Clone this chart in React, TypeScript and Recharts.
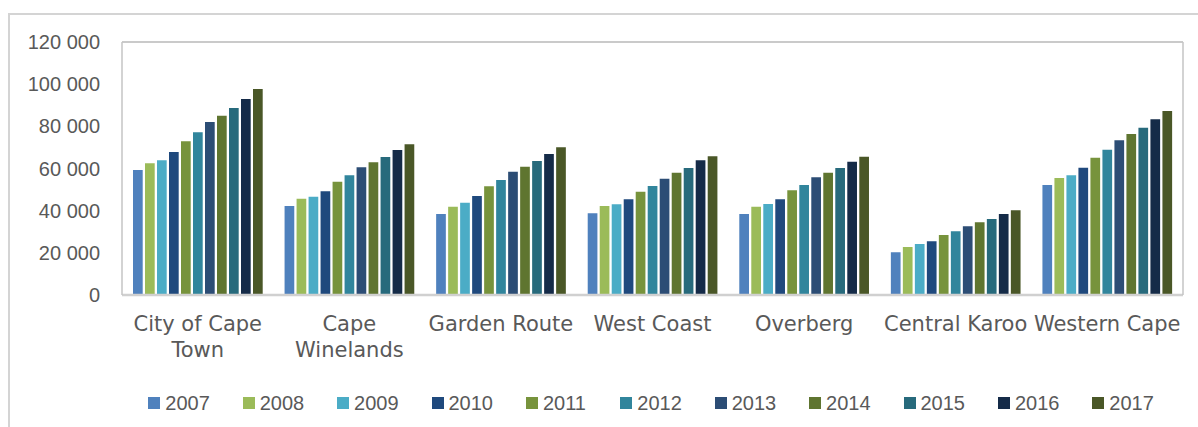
import React from "react";
import {
  BarChart,
  Bar,
  XAxis,
  YAxis,
  CartesianGrid,
  Legend,
  ReferenceLine,
} from "recharts";

const categories = [
  "City of Cape Town",
  "Cape Winelands",
  "Garden Route",
  "West Coast",
  "Overberg",
  "Central Karoo",
  "Western Cape",
];

const tickLines = [
  ["City of Cape", "Town"],
  ["Cape", "Winelands"],
  ["Garden Route"],
  ["West Coast"],
  ["Overberg"],
  ["Central Karoo"],
  ["Western Cape"],
];

const years = ["2007", "2008", "2009", "2010", "2011", "2012", "2013", "2014", "2015", "2016", "2017"];

const v2007 = [59300, 42200, 38400, 38750, 38400, 20240, 52170];
const v2008 = [62470, 45700, 41900, 42200, 41900, 22770, 55490];
const v2009 = [63900, 46600, 43800, 43000, 43160, 24190, 56760];
const v2010 = [67800, 49170, 46960, 45400, 45400, 25460, 60390];
const v2011 = [72900, 53750, 51550, 49000, 49650, 28460, 65130];
const v2012 = [77150, 56760, 54550, 51700, 52170, 30200, 68930];
const v2013 = [82050, 60550, 58500, 55160, 55800, 32580, 73360];
const v2014 = [85050, 62930, 60850, 58000, 58000, 34480, 76360];
const v2015 = [88700, 65450, 63550, 60240, 60240, 36050, 79370];
const v2016 = [92960, 68770, 66880, 63900, 63240, 38420, 83320];
const v2017 = [97700, 71500, 70050, 65800, 65600, 40170, 87270];

const seriesValues = [v2007, v2008, v2009, v2010, v2011, v2012, v2013, v2014, v2015, v2016, v2017];

const colors = [
  "#4F81BD",
  "#9BBB59",
  "#4BACC6",
  "#1F497D",
  "#77933C",
  "#31859C",
  "#2C4D75",
  "#5F7530",
  "#276A7C",
  "#152B48",
  "#4A5727",
];

const yTicks = [0, 20000, 40000, 60000, 80000, 100000, 120000];

const data = categories.map((name, ci) => {
  const row: Record<string, string | number> = { name, idx: ci };
  years.forEach((y, yi) => {
    row["y" + y] = seriesValues[yi][ci];
  });
  return row;
});

const TEXT = "#595959";

const fmt = (v: number) => {
  const s = String(Math.round(v));
  return s.replace(/\B(?=(\d{3})+(?!\d))/g, " ");
};

const XTick = (props: any) => {
  const { x, y, index } = props;
  const lines = tickLines[index] || [String(props.payload?.value ?? "")];
  return (
    <text
      x={x}
      y={y}
      textAnchor="middle"
      fill={TEXT}
      fontFamily="'DejaVu Sans', sans-serif"
      fontSize={21}
    >
      {lines.map((l: string, i: number) => (
        <tspan key={i} x={x} y={y + 36 + i * 25.5}>
          {l}
        </tspan>
      ))}
    </text>
  );
};

const LegendContent = (props: any) => {
  const payload = props.payload || [];
  return (
    <div style={{ position: "relative", height: 40, width: 1198 }}>
      {payload.map((p: any, i: number) => (
        <div
          key={i}
          style={{
            position: "absolute",
            left: 148.3 + i * 94.4,
            top: 0,
            height: 40,
            display: "flex",
            alignItems: "center",
          }}
        >
          <span
            style={{
              display: "inline-block",
              width: 12,
              height: 12,
              background: p.color,
              marginRight: 5,
            }}
          />
          <span
            style={{
              fontFamily: "'Liberation Sans', Arial, sans-serif",
              fontSize: 20,
              color: TEXT,
              lineHeight: "20px",
            }}
          >
            {p.value}
          </span>
        </div>
      ))}
    </div>
  );
};

export default function App() {
  return (
    <div
      style={{
        position: "absolute",
        left: 0,
        top: 0,
        width: 1198,
        height: 427,
        overflow: "hidden",
        background: "#fff",
      }}
    >
      <div
        style={{
          position: "absolute",
          left: 8,
          top: 13,
          width: 1300,
          height: 500,
          borderLeft: "2px solid #d4d4d4",
          borderTop: "2px solid #d4d4d4",
        }}
      />
      <div style={{ position: "absolute", left: 0, top: 0 }}>
        <BarChart
          width={1198}
          height={427}
          data={data}
          margin={{ top: 42, right: 0, left: 0, bottom: 4 }}
          barGap={2.3}
          barSize={9.7}
        >
          <CartesianGrid vertical={false} stroke="#d9d9d9" strokeWidth={2} />
          <XAxis
            dataKey="name"
            height={88}
            tickLine={false}
            tickSize={0}
            tickMargin={0}
            axisLine={{ stroke: "#d0d0d0", strokeWidth: 2.5 }}
            tick={<XTick />}
            interval={0}
          />
          <YAxis
            yAxisId="left"
            width={122}
            domain={[0, 120000]}
            ticks={yTicks}
            tickFormatter={fmt}
            tickLine={false}
            tickSize={6}
            tickMargin={16}
            axisLine={{ stroke: "#c4c4c4", strokeWidth: 1.5 }}
            tick={{ fill: TEXT, fontSize: 20, fontFamily: "'Liberation Sans', Arial, sans-serif" }}
            allowDataOverflow
          />
          <YAxis
            yAxisId="right"
            orientation="right"
            width={15}
            domain={[0, 120000]}
            ticks={yTicks}
            tick={false}
            tickLine={false}
            axisLine={{ stroke: "#c4c4c4", strokeWidth: 1.5 }}
          />
          <ReferenceLine yAxisId="left" y={120000} stroke="#c4c4c4" strokeWidth={1.5} />
          {years.map((y, i) => (
            <Bar
              key={y}
              yAxisId="left"
              dataKey={"y" + y}
              name={y}
              fill={colors[i]}
              isAnimationActive={false}
            />
          ))}
          <Legend verticalAlign="bottom" height={40} content={<LegendContent />} />
        </BarChart>
      </div>
    </div>
  );
}
